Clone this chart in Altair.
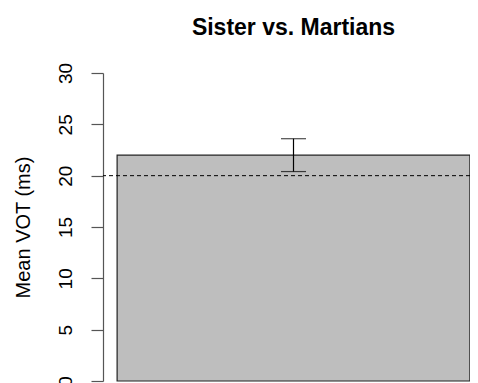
import altair as alt
import pandas as pd

# data
groups = ["Sister vs. Martians"]
means = [22.0]
err_low = [20.4]
err_high = [23.6]
reference_value = [20]
y_ticks = [0, 5, 10, 15, 20, 25, 30]

# barplot geometry in data units (R style: width 1, space 0.2)
bar_left = [0.2]
bar_right = [1.2]
bar_mid = [0.7]

df = pd.DataFrame({
    "group": groups,
    "mean": means,
    "lo": err_low,
    "hi": err_high,
    "x0": bar_left,
    "x1": bar_right,
    "xm": bar_mid,
})
ref = pd.DataFrame({"ref": reference_value})

W = 381
H = 308
xscale = alt.Scale(domain=[0.16, 1.24], nice=False, zero=False)
yscale = alt.Scale(domain=[0, 30], nice=False)

font = "Liberation Sans"
YT = "Mean VOT (ms)"

bars = alt.Chart(df).mark_bar(
    fill="#BEBEBE", stroke="#222222", strokeWidth=1.2
).encode(
    x=alt.X("x0:Q", scale=xscale, axis=None),
    x2="x1:Q",
    y=alt.Y("mean:Q", scale=yscale, title=YT,
            axis=alt.Axis(values=y_ticks, title=YT,
                          labelAngle=-90, labelAlign="center",
                          labelBaseline="bottom", labelPadding=16,
                          labelFontSize=19, labelFont=font, labelColor="#000000",
                          tickSize=12, tickColor="#555555", domainColor="#555555",
                          tickWidth=1.2, domainWidth=1.2,
                          titleFontSize=20, titleFont=font, titleFontWeight="normal",
                          titleColor="#000000", titlePadding=23, grid=False)),
    y2=alt.Y2("zero:Q"),
).transform_calculate(zero="0")

ref_line = alt.Chart(ref).mark_rule(
    color="#000000", strokeDash=[4, 3], strokeWidth=1
).encode(y=alt.Y("ref:Q", scale=yscale, title=YT))

err_rule = alt.Chart(df).mark_rule(color="#000000", strokeWidth=1.2).encode(
    x=alt.X("xm:Q", scale=xscale, axis=None),
    y=alt.Y("lo:Q", scale=yscale, title=YT),
    y2="hi:Q",
)

caps_lo = alt.Chart(df).mark_tick(
    color="#000000", orient="horizontal", size=25, thickness=1.2
).encode(x=alt.X("xm:Q", scale=xscale, axis=None),
         y=alt.Y("lo:Q", scale=yscale, title=YT))

caps_hi = alt.Chart(df).mark_tick(
    color="#000000", orient="horizontal", size=25, thickness=1.2
).encode(x=alt.X("xm:Q", scale=xscale, axis=None),
         y=alt.Y("hi:Q", scale=yscale, title=YT))

chart = alt.layer(bars, ref_line, err_rule, caps_lo, caps_hi).properties(
    width=W,
    height=H,
    title=alt.TitleParams("Sister vs. Martians", font=font, fontSize=23,
                          fontWeight="bold", color="#000000",
                          anchor="middle", offset=22),
    autosize=alt.AutoSizeParams(type="none"),
    padding={"left": 95, "top": 65, "right": -14, "bottom": 2},
    background="white",
).configure_view(stroke=None).configure_axis(grid=False)

chart.save("out.html", embed_options={"renderer": "svg", "actions": False})
